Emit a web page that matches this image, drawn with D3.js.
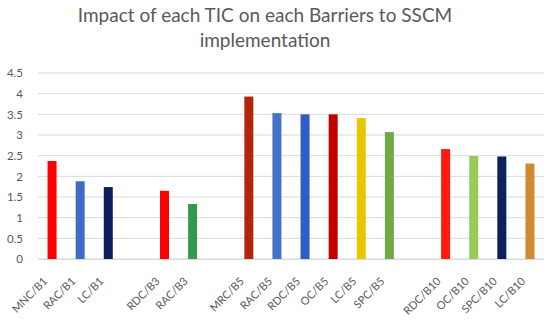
<!DOCTYPE html>
<html>
<head>
<meta charset="utf-8">
<script src="https://cdn.jsdelivr.net/npm/d3@7"></script>
<style>
  body { margin: 0; background: #fff; }
  svg { font-family: Lato, "Open Sans", sans-serif; }
</style>
</head>
<body>
<svg id="chart" width="550" height="320"></svg>
<script>
// categories, with empty slots between barrier groups
const categories = ["MNC/B1", "RAC/B1", "LC/B1", "", "RDC/B3", "RAC/B3", " ",
    "MRC/B5", "RAC/B5", "RDC/B5", "OC/B5", "LC/B5", "SPC/B5", "  ",
    "RDC/B10", "OC/B10", "SPC/B10", "LC/B10"];
const values = [2.37, 1.88, 1.74, null, 1.65, 1.33, null,
    3.93, 3.53, 3.5, 3.5, 3.41, 3.07, null,
    2.66, 2.49, 2.48, 2.31];
const barColors = ["#ff0000", "#3f6cc6", "#0e1f5e", null, "#ff0000", "#33994c", null,
    "#b2250a", "#4472c4", "#2f5cc6", "#c00000", "#e8c600", "#6faa46", null,
    "#ff1a10", "#97cb55", "#0d1f5c", "#d28a30"];
const yTicks = [0, 0.5, 1, 1.5, 2, 2.5, 3, 3.5, 4, 4.5];
const titleLines = ["Impact of each TIC on each Barriers to SSCM", "implementation"];

const svg = d3.select("#chart");
const margin = { top: 73, left: 38, right: 6, bottom: 61 };
const width = 550, height = 320;

const x = d3.scaleBand()
    .domain(categories)
    .range([margin.left, width - margin.right])
    .paddingInner(0.68)
    .paddingOuter(0.34);

const y = d3.scaleLinear()
    .domain([0, 4.5])
    .range([height - margin.bottom, margin.top]);

// title
svg.append("g")
    .selectAll("text")
    .data(titleLines)
    .join("text")
    .attr("x", 265)
    .attr("y", (d, i) => 22 + i * 25)
    .attr("text-anchor", "middle")
    .attr("font-size", "19px")
    .attr("fill", "#595959")
    .text(d => d);

// gridlines
svg.append("g")
    .selectAll("line")
    .data(yTicks)
    .join("line")
    .attr("x1", margin.left)
    .attr("x2", width - margin.right)
    .attr("y1", d => y(d))
    .attr("y2", d => y(d))
    .attr("stroke", "#d9d9d9")
    .attr("stroke-width", 1);

// y axis labels
const yAxis = svg.append("g")
    .attr("transform", `translate(${margin.left - 12},0)`)
    .call(d3.axisLeft(y).tickValues(yTicks).tickSize(0).tickFormat(d3.format("")));
yAxis.select(".domain").remove();
yAxis.selectAll("text")
    .attr("fill", "#595959")
    .attr("font-size", "11.5px")
    .attr("font-family", "Lato, sans-serif");

// bars
const bars = categories.map((c, i) => ({ cat: c, value: values[i], color: barColors[i] }))
    .filter(d => d.value !== null);

svg.append("g")
    .selectAll("rect")
    .data(bars)
    .join("rect")
    .attr("x", d => x(d.cat))
    .attr("width", x.bandwidth())
    .attr("y", d => y(d.value))
    .attr("height", d => y(0) - y(d.value))
    .attr("fill", d => d.color);

// x axis labels
const xAxis = svg.append("g")
    .attr("transform", `translate(0,${y(0)})`)
    .call(d3.axisBottom(x).tickSize(0).tickFormat(d => d.trim()));
xAxis.select(".domain").attr("stroke", "#d9d9d9");
xAxis.selectAll("text")
    .attr("fill", "#595959")
    .attr("font-size", "11px")
    .attr("font-family", "Lato, sans-serif")
    .attr("text-anchor", "end")
    .attr("dy", null)
    .attr("y", 0)
    .attr("transform", "translate(-4,23) rotate(-45)");
</script>
</body>
</html>
